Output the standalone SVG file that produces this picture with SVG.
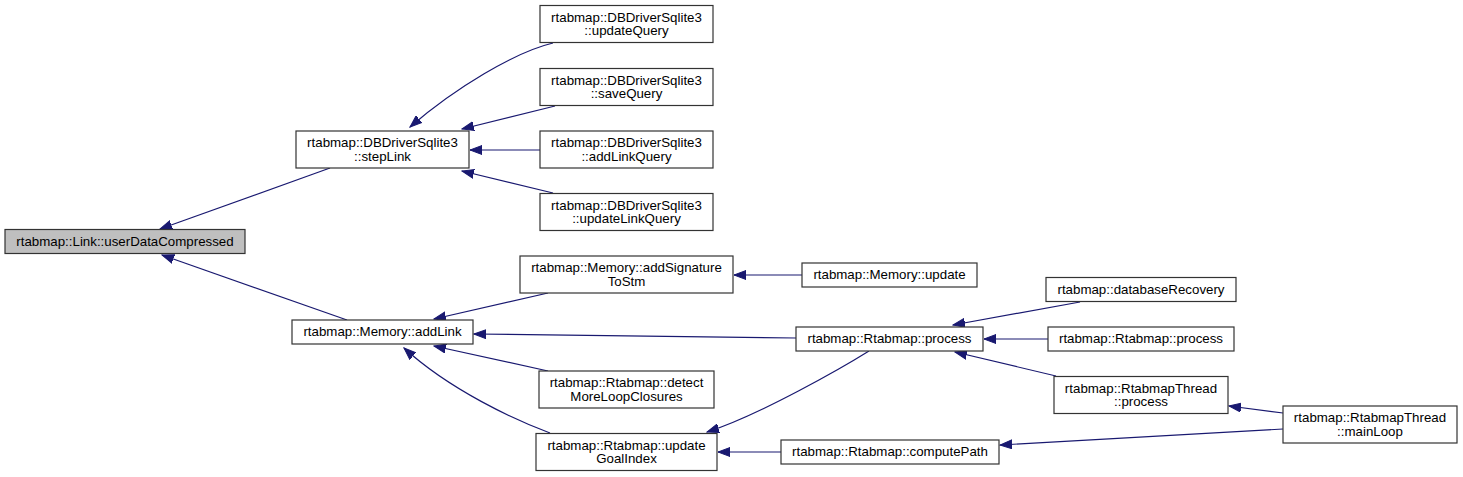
<svg xmlns="http://www.w3.org/2000/svg" width="1463" height="477" viewBox="0 0 1463 477">
<style>
.n rect{fill:#ffffff;stroke:#333333;stroke-width:1.2}
.hl rect{fill:#bfbfbf;stroke:#333333;stroke-width:1.2}
text{font-family:"Liberation Sans",Arial,Helvetica,sans-serif;font-size:13.3px;fill:#000;text-anchor:middle}
.e path{fill:none;stroke:#191970;stroke-width:1.2}
</style>
<defs>
<marker id="ah" markerUnits="userSpaceOnUse" markerWidth="13" markerHeight="10" refX="12" refY="5" orient="auto">
<path d="M0,0.5 L12,5 L0,9.5 z" fill="#191970" stroke="#191970" stroke-width="1"/>
</marker>
</defs>
<rect width="1463" height="477" fill="#ffffff"/>
<g class="e" marker-end="url(#ah)">
<path d="M330,168 L160,229" marker-end="url(#ah)"/>
<path d="M347,320 L162,255" marker-end="url(#ah)"/>
<path d="M553,43 C515,52 455,88 410,127" marker-end="url(#ah)"/>
<path d="M555,106 L462,129" marker-end="url(#ah)"/>
<path d="M540,150 L470,150" marker-end="url(#ah)"/>
<path d="M553,193 L462,171" marker-end="url(#ah)"/>
<path d="M548,293 L434,319" marker-end="url(#ah)"/>
<path d="M796,338 L474,334" marker-end="url(#ah)"/>
<path d="M548,371 L434,346" marker-end="url(#ah)"/>
<path d="M550,433 C515,420 450,390 404,348" marker-end="url(#ah)"/>
<path d="M802,275 L734,275" marker-end="url(#ah)"/>
<path d="M869,351 C845,366 760,415 707,432" marker-end="url(#ah)"/>
<path d="M781,452 L718,452" marker-end="url(#ah)"/>
<path d="M1080,302 L953,325" marker-end="url(#ah)"/>
<path d="M1048,339 L984,339" marker-end="url(#ah)"/>
<path d="M1056,376 L955,352" marker-end="url(#ah)"/>
<path d="M1283,413 L1229,406" marker-end="url(#ah)"/>
<path d="M1283,429 L1000,445" marker-end="url(#ah)"/>
</g>
<g id="node1" class="hl"><rect x="5" y="229.5" width="240" height="24"/><text x="125" y="245.5">rtabmap::Link::userDataCompressed</text></g>
<g id="node2" class="n"><rect x="296" y="131" width="173" height="37"/><text x="382.5" y="147">rtabmap::DBDriverSqlite3</text><text x="382.5" y="160.5">::stepLink</text></g>
<g id="node3" class="n"><rect x="292" y="320" width="181" height="24"/><text x="382.5" y="336">rtabmap::Memory::addLink</text></g>
<g id="node4" class="n"><rect x="540" y="5.5" width="173" height="37"/><text x="626.5" y="21.5">rtabmap::DBDriverSqlite3</text><text x="626.5" y="35">::updateQuery</text></g>
<g id="node5" class="n"><rect x="540" y="68.5" width="173" height="37"/><text x="626.5" y="84.5">rtabmap::DBDriverSqlite3</text><text x="626.5" y="98">::saveQuery</text></g>
<g id="node6" class="n"><rect x="540" y="131" width="173" height="37"/><text x="626.5" y="147">rtabmap::DBDriverSqlite3</text><text x="626.5" y="160.5">::addLinkQuery</text></g>
<g id="node7" class="n"><rect x="540" y="193.5" width="173" height="37"/><text x="626.5" y="209.5">rtabmap::DBDriverSqlite3</text><text x="626.5" y="223">::updateLinkQuery</text></g>
<g id="node8" class="n"><rect x="520" y="256" width="213" height="37"/><text x="626.5" y="272">rtabmap::Memory::addSignature</text><text x="626.5" y="285.5">ToStm</text></g>
<g id="node9" class="n"><rect x="539" y="371" width="175" height="37"/><text x="626.5" y="387">rtabmap::Rtabmap::detect</text><text x="626.5" y="400.5">MoreLoopClosures</text></g>
<g id="node10" class="n"><rect x="536" y="433.5" width="181" height="37"/><text x="626.5" y="449.5">rtabmap::Rtabmap::update</text><text x="626.5" y="463">GoalIndex</text></g>
<g id="node11" class="n"><rect x="802" y="263" width="175" height="24"/><text x="889.5" y="279">rtabmap::Memory::update</text></g>
<g id="node12" class="n"><rect x="796" y="327" width="187" height="24"/><text x="889.5" y="343">rtabmap::Rtabmap::process</text></g>
<g id="node13" class="n"><rect x="781" y="440" width="218" height="24"/><text x="890" y="456">rtabmap::Rtabmap::computePath</text></g>
<g id="node14" class="n"><rect x="1046" y="277.5" width="190" height="24"/><text x="1141" y="293.5">rtabmap::databaseRecovery</text></g>
<g id="node15" class="n"><rect x="1048" y="327" width="186" height="24"/><text x="1141" y="343">rtabmap::Rtabmap::process</text></g>
<g id="node16" class="n"><rect x="1054" y="376.5" width="174" height="37"/><text x="1141" y="392.5">rtabmap::RtabmapThread</text><text x="1141" y="406">::process</text></g>
<g id="node17" class="n"><rect x="1283" y="406" width="174" height="37"/><text x="1370" y="422">rtabmap::RtabmapThread</text><text x="1370" y="435.5">::mainLoop</text></g>
</svg>
